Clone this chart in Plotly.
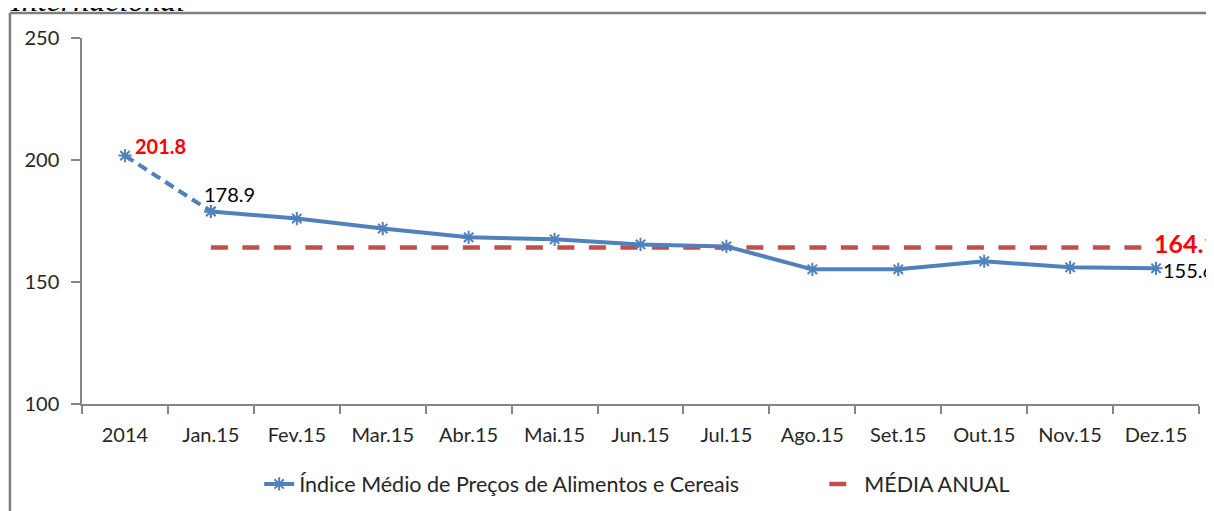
import plotly.graph_objects as go

categories = ["2014", "Jan.15", "Fev.15", "Mar.15", "Abr.15", "Mai.15", "Jun.15",
              "Jul.15", "Ago.15", "Set.15", "Out.15", "Nov.15", "Dez.15"]
index_values = [201.8, 178.9, 176.0, 171.9, 168.3, 167.5, 165.4, 164.6,
                155.2, 155.2, 158.5, 156.0, 155.6]
annual_mean = 164.1
series_name = "Índice Médio de Preços de Alimentos e Cereais"
mean_name = "MÉDIA ANUAL"
title_text = "Internacional"
y_ticks = [100, 150, 200, 250]

BLUE = "#4F81BD"
RED = "#C0504D"
AXIS = "#868686"
TXT = "#262626"
FONT = "Lato, 'Open Sans', sans-serif"

fig = go.Figure()

marker_style = dict(symbol="asterisk-open", size=11, line=dict(color=BLUE, width=2))

# dashed segment 2014 -> Jan.15
fig.add_trace(go.Scatter(
    x=categories[:2], y=index_values[:2], mode="lines+markers",
    line=dict(color=BLUE, width=4, dash="10px,6px"),
    marker=marker_style, showlegend=False, hoverinfo="skip"))

# annual mean line
fig.add_trace(go.Scatter(
    x=categories[1:], y=[annual_mean] * (len(categories) - 1), mode="lines",
    line=dict(color=RED, width=4.5, dash="17px,14.5px"), name=mean_name,
    legend="legend2"))

# main series
fig.add_trace(go.Scatter(
    x=categories[1:], y=index_values[1:], mode="lines+markers",
    line=dict(color=BLUE, width=4), marker=marker_style, name=series_name,
    legend="legend"))

# data labels (x given as category index)
i_first, i_jan, i_last = 0, 1, len(categories) - 1
fig.add_annotation(x=i_first, y=index_values[i_first], text="<b>%.1f</b>" % index_values[i_first],
                   showarrow=False, xanchor="left", yanchor="middle", xshift=8, yshift=10,
                   font=dict(family=FONT, size=20, color="#FF0000"))
fig.add_annotation(x=i_jan, y=index_values[i_jan], text="%.1f" % index_values[i_jan],
                   showarrow=False, xanchor="left", yanchor="middle", xshift=-9, yshift=17,
                   font=dict(family=FONT, size=20, color="#000000"))
fig.add_annotation(x=i_last, y=index_values[i_last], text="%.1f" % index_values[i_last],
                   showarrow=False, xanchor="left", yanchor="middle", xshift=5, yshift=-2,
                   font=dict(family=FONT, size=20, color="#000000"))
fig.add_annotation(x=i_last, y=annual_mean, text="<b>%.1f</b>" % annual_mean,
                   showarrow=False, xanchor="left", yanchor="middle", xshift=-4, yshift=5,
                   font=dict(family=FONT, size=25, color="#FF0000"))

# cropped title at the top
fig.add_annotation(xref="paper", yref="paper", x=-0.066, y=1.05,
                   text="<i>%s</i>" % title_text, showarrow=False,
                   xanchor="left", yanchor="bottom",
                   font=dict(family="Liberation Serif, serif", size=32, color="#000000"))

# outer frame (top and left edges)
fig.add_shape(type="line", xref="paper", yref="paper", x0=-0.0645, x1=1.03, y0=1.0683, y1=1.0683,
              line=dict(color="#7F7F7F", width=2.5))
fig.add_shape(type="line", xref="paper", yref="paper", x0=-0.0645, x1=-0.0645, y0=1.0683, y1=-0.32,
              line=dict(color="#7F7F7F", width=2.5))

fig.update_xaxes(type="category", categoryorder="array", categoryarray=categories,
                 range=[-0.5, 12.5], showline=True, linecolor=AXIS, linewidth=1.5,
                 ticks="outside", tickson="boundaries", ticklen=8, tickcolor=AXIS, tickwidth=1.5,
                 showgrid=False, zeroline=False, ticklabelstandoff=12, automargin=False,
                 tickfont=dict(family=FONT, size=20, color=TXT))
fig.update_yaxes(range=[100, 250], tickvals=y_ticks, showline=True, linecolor=AXIS,
                 linewidth=1.5, ticks="outside", ticklen=9, tickcolor=AXIS, tickwidth=1.5,
                 showgrid=False, zeroline=False, ticklabelstandoff=8, automargin=False,
                 tickfont=dict(family=FONT, size=20, color=TXT))

legend_font = dict(family=FONT, size=21.5, color=TXT)
fig.update_layout(
    width=1206, height=503,
    margin=dict(l=74, r=15, t=30, b=107, autoexpand=False),
    plot_bgcolor="white", paper_bgcolor="white",
    font=dict(family=FONT, size=20, color=TXT),
    legend=dict(orientation="h", x=0.1586, xanchor="left", y=0.0537, yanchor="middle",
                yref="container", font=legend_font),
    legend2=dict(orientation="h", x=0.6645, xanchor="left", y=0.0537, yanchor="middle",
                 yref="container", font=legend_font),
)

fig.write_html("out.html")
